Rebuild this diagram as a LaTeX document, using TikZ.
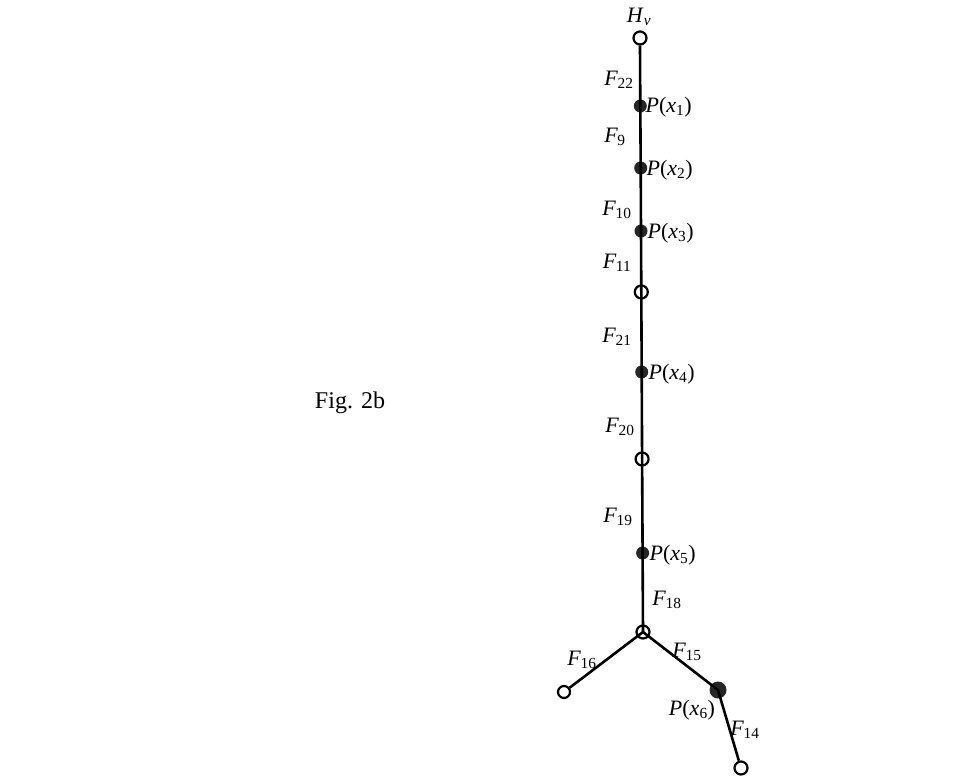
\documentclass[tikz,border=0pt]{standalone}
\usepackage{fontspec}
\setmainfont{Liberation Serif}
\newcommand{\lF}[1]{\textit{F}\kern-0.5pt\textsubscript{#1}}
\newcommand{\lP}[1]{\textit{P}(\textit{x}\textsubscript{#1})}
\begin{document}
\begin{tikzpicture}[x=1pt,y=-1pt,
  edge/.style={line width=2.6pt},
  opennode/.style={circle,draw,line width=2.2pt,minimum size=13pt,inner sep=0pt},
  fullnode/.style={circle,fill=black!85,minimum size=13pt,inner sep=0pt},
  lbl/.style={font=\fontsize{22}{25}\selectfont,inner sep=0.5pt}]
\useasboundingbox[fill=white] (0,0) rectangle (978,777);
% vertices
\node[opennode] (hv) at (640,38) {};
\node[fullnode] (p1) at (640.3,106) {};
\node[fullnode] (p2) at (640.7,168) {};
\node[fullnode] (p3) at (641,231) {};
\node[opennode] (o1) at (641.3,292) {};
\node[fullnode] (p4) at (641.7,372) {};
\node[opennode] (o2) at (642.1,459) {};
\node[fullnode] (p5) at (642.6,553) {};
\node[opennode] (j) at (643,632) {};
\node[opennode,minimum size=12pt] (l) at (564,692) {};
\node[fullnode,minimum size=17pt] (p6) at (718,690) {};
\node[opennode] (b) at (741,768) {};
% edges
\draw[edge] (hv.south) -- (p1.center) -- (p2.center) -- (p3.center) -- (o1.center)
  -- (p4.center) -- (o2.center) -- (p5.center) -- (j.center);
\draw[edge] (j.center) -- (l);
\draw[edge] (j.center) -- (p6.center) -- (b);
% labels
\node[lbl] (thv) at (639,17) {\textit{H}\textsubscript{\textit{v}}};
\node[lbl] (f22) at (619,80) {\lF{22}};
\node[lbl,anchor=west] (tp1) at (645,107) {\lP{1}};
\node[lbl] (f9) at (615,137) {\lF{9}};
\node[lbl,anchor=west] (tp2) at (646,170) {\lP{2}};
\node[lbl] (f10) at (617,210) {\lF{10}};
\node[lbl,anchor=west] (tp3) at (647,233) {\lP{3}};
\node[lbl] (f11) at (617,263) {\lF{11}};
\node[lbl] (f21) at (617,337) {\lF{21}};
\node[lbl,anchor=west] (tp4) at (648,374) {\lP{4}};
\node[lbl] (f20) at (620,427) {\lF{20}};
\node[lbl] (f19) at (618,517) {\lF{19}};
\node[lbl,anchor=west] (tp5) at (649,555) {\lP{5}};
\node[lbl] (f18) at (667,600) {\lF{18}};
\node[lbl] (f16) at (582,660) {\lF{16}};
\node[lbl] (f15) at (687,652) {\lF{15}};
\node[lbl] (tp6) at (692,710) {\lP{6}};
\node[lbl] (f14) at (745,730) {\lF{14}};
\node[font=\fontsize{24}{28}\selectfont] (fig) at (350,403) {Fig. 2b};
\end{tikzpicture}
\end{document}
